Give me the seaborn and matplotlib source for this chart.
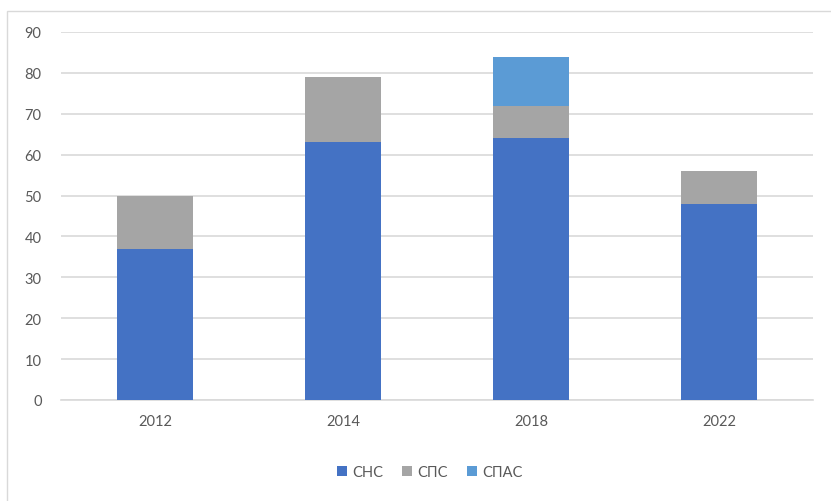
import pandas as pd
import seaborn as sns
import matplotlib.pyplot as plt
from matplotlib.patches import Rectangle

years = ['2012', '2014', '2018', '2022']
snc = [37, 63, 64, 48]
spc = [13, 16, 8, 8]
spac = [0, 0, 12, 0]

colors = {'СНС': '#4472C4', 'СПС': '#A5A5A5', 'СПАС': '#5B9BD5'}

df = pd.DataFrame({'year': years, 'СНС': snc, 'СПС': spc, 'СПАС': spac})
df['cum_snc'] = df['СНС']
df['cum_spc'] = df['СНС'] + df['СПС']
df['cum_spac'] = df['cum_spc'] + df['СПАС']

sns.set_theme(style='white')
plt.rcParams['font.family'] = ['Lato', 'DejaVu Sans']

fig = plt.figure(figsize=(8.31, 5.02), dpi=100)
ax = fig.add_axes([61 / 831, 1 - 401 / 502, (813 - 61) / 831, (401 - 33) / 502])

# stacked bars: draw the cumulative totals from the top layer down
sns.barplot(data=df, x='year', y='cum_spac', color=colors['СПАС'], width=0.4,
            saturation=1, ax=ax, label='СПАС', zorder=3, linewidth=0)
sns.barplot(data=df, x='year', y='cum_spc', color=colors['СПС'], width=0.4,
            saturation=1, ax=ax, label='СПС', zorder=3, linewidth=0)
sns.barplot(data=df, x='year', y='cum_snc', color=colors['СНС'], width=0.4,
            saturation=1, ax=ax, label='СНС', zorder=3, linewidth=0)

ax.set_ylim(0, 90)
ax.set_yticks(range(0, 91, 10))
ax.yaxis.grid(True, color='#D9D9D9', linewidth=1.2, zorder=0)
ax.set_axisbelow(True)
ax.set_xlabel('')
ax.set_ylabel('')
for s in ['top', 'right', 'left']:
    ax.spines[s].set_visible(False)
ax.spines['bottom'].set_color('#D9D9D9')
ax.spines['bottom'].set_linewidth(1.2)
ax.tick_params(axis='both', colors='#595959', labelsize=10.5, length=0)
ax.tick_params(axis='x', pad=10)
ax.tick_params(axis='y', pad=14)

handles, labels = ax.get_legend_handles_labels()
ax.legend_.remove()
order = ['СНС', 'СПС', 'СПАС']
hmap = dict(zip(labels, handles))
fig.legend([hmap[k] for k in order], order, loc='center', bbox_to_anchor=(430 / 831, 1 - 473 / 502),
           ncol=3, frameon=False, fontsize=10.5, labelcolor='#595959',
           handlelength=0.65, handleheight=0.65, handletextpad=0.4, columnspacing=1.3)

# chart area border
fig.patches.append(Rectangle((7 / 831, -0.1), 1.2, 1 - 12 / 502 + 0.1, transform=fig.transFigure,
                             fill=False, edgecolor='#D9D9D9', linewidth=1))

fig.savefig('out.png', dpi=100, facecolor='white')
